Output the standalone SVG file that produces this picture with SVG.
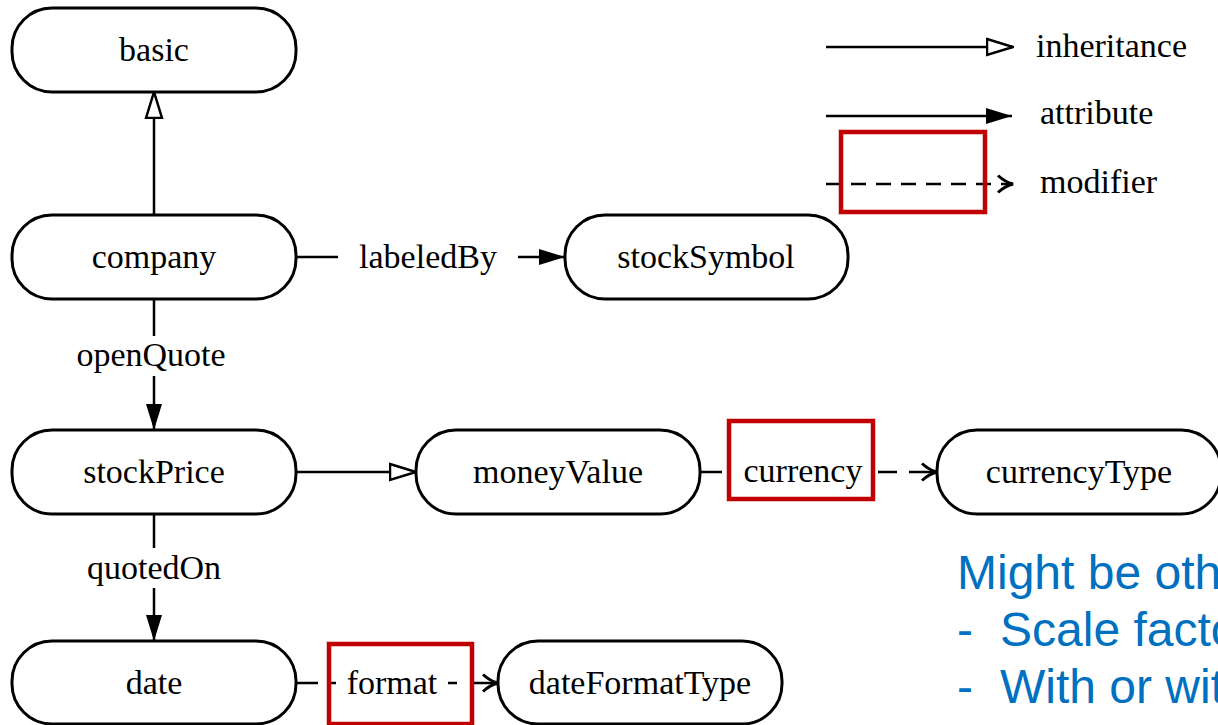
<svg xmlns="http://www.w3.org/2000/svg" width="1218" height="725" viewBox="0 0 1218 725">
  <style>
    .node rect { fill: #fff; stroke: #000; stroke-width: 3; }
    .lbl { font-family: "Liberation Serif", "Times New Roman", serif; font-size: 34px; fill: #000; text-anchor: middle; }
    .leg { font-family: "Liberation Serif", "Times New Roman", serif; font-size: 34px; fill: #000; }
    .edge { stroke: #000; stroke-width: 2.5; fill: none; }
    .dash { stroke-dasharray: 15 10; }
    .hi { fill: none; stroke: #C00000; stroke-width: 4.5; }
    .note { font-family: "Liberation Sans", Arial, sans-serif; font-size: 48px; fill: #0070C0; }
  </style>
  <defs>
    <marker id="tri-open" viewBox="0 0 28 20" refX="27" refY="10" markerWidth="28" markerHeight="20" markerUnits="userSpaceOnUse" orient="auto">
      <path d="M1,2 L27,10 L1,18 Z" fill="#fff" stroke="#000" stroke-width="2.5"/>
    </marker>
    <marker id="tri-fill" viewBox="0 0 26 20" refX="26" refY="10" markerWidth="26" markerHeight="20" markerUnits="userSpaceOnUse" orient="auto">
      <path d="M0,2 L26,10 L0,18 Z" fill="#000"/>
    </marker>
    <marker id="chev" viewBox="0 0 20 20" refX="18" refY="10" markerWidth="20" markerHeight="20" markerUnits="userSpaceOnUse" orient="auto">
      <path d="M3,1.5 Q10,8 18,10 Q10,12 3,18.5" fill="none" stroke="#000" stroke-width="3"/>
    </marker>
  </defs>

  <!-- connectors -->
  <g id="connectors">
    <line class="edge" x1="154" y1="215" x2="154" y2="92" marker-end="url(#tri-open)"/>
    <line class="edge" x1="296" y1="257" x2="338" y2="257"/>
    <text class="lbl" x="428" y="268">labeledBy</text>
    <line class="edge" x1="518" y1="257" x2="565" y2="257" marker-end="url(#tri-fill)"/>
    <line class="edge" x1="154" y1="299" x2="154" y2="336"/>
    <text class="lbl" x="151" y="366">openQuote</text>
    <line class="edge" x1="154" y1="376" x2="154" y2="430" marker-end="url(#tri-fill)"/>
    <line class="edge" x1="296" y1="472" x2="416" y2="472" marker-end="url(#tri-open)"/>
    <line class="edge" x1="700" y1="472" x2="722" y2="472"/>
    <text class="lbl" x="803" y="482">currency</text>
    <line class="edge" x1="878" y1="472" x2="897" y2="472"/>
    <line class="edge" x1="909" y1="472" x2="937" y2="472" marker-end="url(#chev)"/>
    <line class="edge" x1="154" y1="514" x2="154" y2="548"/>
    <text class="lbl" x="154" y="579">quotedOn</text>
    <line class="edge" x1="154" y1="588" x2="154" y2="641" marker-end="url(#tri-fill)"/>
    <line class="edge" x1="296" y1="683" x2="318" y2="683"/>
    <line class="edge" x1="329" y1="683" x2="336" y2="683"/>
    <text class="lbl" x="392" y="694">format</text>
    <line class="edge" x1="448" y1="683" x2="457" y2="683"/>
    <line class="edge" x1="470" y1="683" x2="498" y2="683" marker-end="url(#chev)"/>
  </g>

  <!-- nodes -->
  <g id="basic" class="node"><rect x="12" y="8" width="284" height="84" rx="40"/><text class="lbl" x="154" y="61">basic</text></g>
  <g id="company" class="node"><rect x="12" y="215" width="284" height="84" rx="40"/><text class="lbl" x="154" y="268">company</text></g>
  <g id="stockSymbol" class="node"><rect x="565" y="215" width="283" height="84" rx="40"/><text class="lbl" x="706" y="268">stockSymbol</text></g>
  <g id="stockPrice" class="node"><rect x="12" y="430" width="284" height="84" rx="40"/><text class="lbl" x="154" y="483">stockPrice</text></g>
  <g id="moneyValue" class="node"><rect x="416" y="430" width="284" height="84" rx="40"/><text class="lbl" x="558" y="483">moneyValue</text></g>
  <g id="currencyType" class="node"><rect x="937" y="430" width="284" height="84" rx="40"/><text class="lbl" x="1079" y="483">currencyType</text></g>
  <g id="date" class="node"><rect x="12" y="641" width="284" height="83" rx="40"/><text class="lbl" x="154" y="694">date</text></g>
  <g id="dateFormatType" class="node"><rect x="498" y="641" width="284" height="83" rx="40"/><text class="lbl" x="640" y="694">dateFormatType</text></g>

  <!-- legend -->
  <g id="legend">
    <line class="edge" x1="826" y1="47" x2="1013" y2="47" marker-end="url(#tri-open)"/>
    <text class="leg" x="1036" y="57">inheritance</text>
    <line class="edge" x1="826" y1="116" x2="1012" y2="116" marker-end="url(#tri-fill)"/>
    <text class="leg" x="1040" y="124">attribute</text>
    <line class="edge dash" x1="826" y1="184" x2="1013" y2="184" marker-end="url(#chev)"/>
    <text class="leg" x="1040" y="193">modifier</text>
  </g>

  <!-- highlight boxes -->
  <g id="highlights">
    <rect class="hi" x="841" y="132" width="144" height="80"/>
    <rect class="hi" x="729" y="421" width="144" height="78"/>
    <rect class="hi" x="329" y="644" width="143" height="80"/>
  </g>

  <!-- note, running past the right edge -->
  <g id="note">
    <text class="note" x="957" y="589">Might be oth</text>
    <text class="note" x="957" y="646">-</text>
    <text class="note" x="1000" y="646">Scale facto</text>
    <text class="note" x="957" y="703">-</text>
    <text class="note" x="1000" y="703">With or wit</text>
  </g>
</svg>
